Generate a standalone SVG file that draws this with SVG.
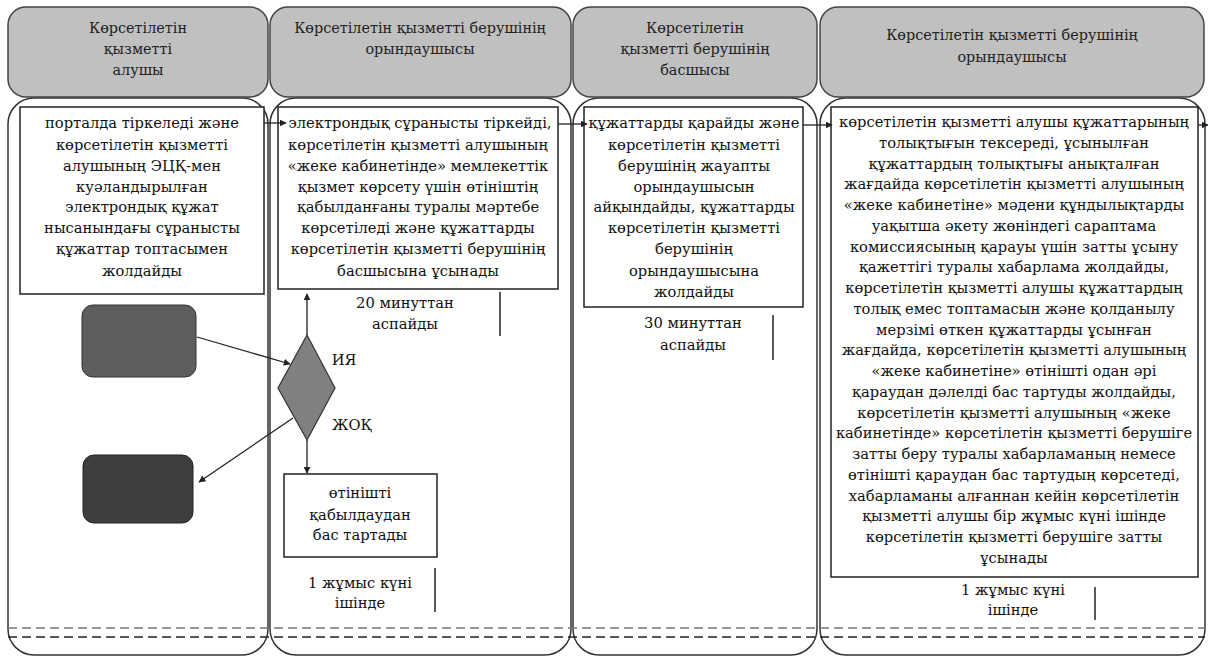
<svg xmlns="http://www.w3.org/2000/svg" width="1208" height="658" viewBox="0 0 1208 658">
<style>
.hdr{fill:#c0c0c0;stroke:#444;stroke-width:1.5}
.lane{fill:#fff;stroke:#333;stroke-width:1.5}
.box{fill:#fff;stroke:#222;stroke-width:1.5}
.t{font-family:"DejaVu Serif","Liberation Serif",serif;font-size:14.7px;fill:#111;text-anchor:middle}
.h{font-family:"DejaVu Serif","Liberation Serif",serif;font-size:14.4px;fill:#222;text-anchor:middle}
.arr{stroke:#222;stroke-width:1.3;fill:none;marker-end:url(#ah)}
.tick{stroke:#222;stroke-width:1.5}
</style>
<defs>
<marker id="ah" viewBox="0 0 10 10" refX="9" refY="5" markerWidth="7" markerHeight="7" orient="auto" markerUnits="userSpaceOnUse"><path d="M0,0 L10,5 L0,10 z" fill="#222"/></marker>
</defs>
<rect width="1208" height="658" fill="#fff"/>
<g id="lanes">
<rect class="lane" x="8" y="98" width="260" height="557" rx="26"/>
<rect class="lane" x="270" y="98" width="301" height="557" rx="26"/>
<rect class="lane" x="573" y="98" width="244" height="557" rx="26"/>
<rect class="lane" x="820" y="98" width="385" height="557" rx="26"/>
</g>
<g id="headers">
<g id="h1"><rect class="hdr" x="8" y="7" width="260" height="90" rx="18"/>
<text class="h" x="138" y="33">Көрсетілетін</text><text class="h" x="138" y="54">қызметті</text><text class="h" x="138" y="75">алушы</text></g>
<g id="h2"><rect class="hdr" x="270" y="7" width="301" height="90" rx="18"/>
<text class="h" x="420" y="33">Көрсетілетін қызметті берушінің</text><text class="h" x="420" y="54">орындаушысы</text></g>
<g id="h3"><rect class="hdr" x="573" y="7" width="244" height="90" rx="18"/>
<text class="h" x="695" y="33">Көрсетілетін</text><text class="h" x="695" y="54">қызметті берушінің</text><text class="h" x="695" y="75">басшысы</text></g>
<g id="h4"><rect class="hdr" x="820" y="7" width="384" height="90" rx="18"/>
<text class="h" x="1012" y="40">Көрсетілетін қызметті берушінің</text><text class="h" x="1012" y="62">орындаушысы</text></g>
</g>
<g id="dashes">
<line x1="8" y1="628" x2="1205" y2="628" stroke="#777" stroke-width="1.5" stroke-dasharray="9,5"/>
<line x1="8" y1="637" x2="1205" y2="637" stroke="#222" stroke-width="1.5" stroke-dasharray="9,5"/>
</g>
<g id="box1"><rect class="box" x="20" y="107" width="244" height="187"/>
<text class="t" x="142" y="128">порталда тіркеледі және</text>
<text class="t" x="142" y="150">көрсетілетін қызметті</text>
<text class="t" x="142" y="171">алушының ЭЦҚ-мен</text>
<text class="t" x="142" y="192">куәландырылған</text>
<text class="t" x="142" y="212">электрондық құжат</text>
<text class="t" x="142" y="233">нысанындағы сұранысты</text>
<text class="t" x="142" y="254">құжаттар топтасымен</text>
<text class="t" x="142" y="276">жолдайды</text>
</g>
<g id="box2"><rect class="box" x="278" y="107" width="280" height="182"/>
<text class="t" x="420" y="128">электрондық сұранысты тіркейді,</text>
<text class="t" x="418" y="150">көрсетілетін қызметті алушының</text>
<text class="t" x="418" y="171">«жеке кабинетінде» мемлекеттік</text>
<text class="t" x="418" y="192">қызмет көрсету үшін өтініштің</text>
<text class="t" x="418" y="212">қабылданғаны туралы мәртебе</text>
<text class="t" x="418" y="233">көрсетіледі және құжаттарды</text>
<text class="t" x="418" y="254">көрсетілетін қызметті берушінің</text>
<text class="t" x="418" y="276">басшысына ұсынады</text>
</g>
<g id="box3"><rect class="box" x="584" y="107" width="219" height="200"/>
<text class="t" x="694" y="128">құжаттарды қарайды және</text>
<text class="t" x="694" y="150">көрсетілетін қызметті</text>
<text class="t" x="694" y="171">берушінің жауапты</text>
<text class="t" x="694" y="192">орындаушысын</text>
<text class="t" x="694" y="212">айқындайды, құжаттарды</text>
<text class="t" x="694" y="233">көрсетілетін қызметті</text>
<text class="t" x="694" y="254">берушінің</text>
<text class="t" x="694" y="276">орындаушысына</text>
<text class="t" x="694" y="297">жолдайды</text>
</g>
<g id="box4"><rect class="box" x="831" y="107" width="367" height="470"/>
<text class="t" x="1014" y="127">көрсетілетін қызметті алушы құжаттарының</text>
<text class="t" x="1014" y="148">толықтығын тексереді, ұсынылған</text>
<text class="t" x="1014" y="169">құжаттардың толықтығы анықталған</text>
<text class="t" x="1014" y="189">жағдайда көрсетілетін қызметті алушының</text>
<text class="t" x="1014" y="210">«жеке кабинетіне» мәдени құндылықтарды</text>
<text class="t" x="1014" y="231">уақытша әкету жөніндегі сараптама</text>
<text class="t" x="1014" y="252">комиссиясының қарауы үшін затты ұсыну</text>
<text class="t" x="1014" y="272">қажеттігі туралы хабарлама жолдайды,</text>
<text class="t" x="1014" y="293">көрсетілетін қызметті алушы құжаттардың</text>
<text class="t" x="1014" y="314">толық емес топтамасын және қолданылу</text>
<text class="t" x="1014" y="335">мерзімі өткен құжаттарды ұсынған</text>
<text class="t" x="1014" y="355">жағдайда, көрсетілетін қызметті алушының</text>
<text class="t" x="1014" y="376">«жеке кабинетіне» өтінішті одан әрі</text>
<text class="t" x="1014" y="397">қараудан дәлелді бас тартуды жолдайды,</text>
<text class="t" x="1014" y="418">көрсетілетін қызметті алушының «жеке</text>
<text class="t" x="1014" y="438">кабинетінде» көрсетілетін қызметті берушіге</text>
<text class="t" x="1014" y="459">затты беру туралы хабарламаның немесе</text>
<text class="t" x="1014" y="480">өтінішті қараудан бас тартудың көрсетеді,</text>
<text class="t" x="1014" y="501">хабарламаны алғаннан кейін көрсетілетін</text>
<text class="t" x="1014" y="521">қызметті алушы бір жұмыс күні ішінде</text>
<text class="t" x="1014" y="542">көрсетілетін қызметті берушіге затты</text>
<text class="t" x="1014" y="563">ұсынады</text>
</g>
<g id="rr1"><rect x="82" y="305" width="114" height="72" rx="11" fill="#5e5e5e" stroke="#333" stroke-width="1"/></g>
<g id="rr2"><rect x="83" y="455" width="110" height="68" rx="11" fill="#3e3e3e" stroke="#222" stroke-width="1"/></g>
<g id="decision"><path d="M307,335 L335,388 L307,440 L278,388 Z" fill="#808080" stroke="#333" stroke-width="1.2"/></g>
<g id="reject"><rect class="box" x="284" y="474" width="153" height="83"/>
<text class="t" x="360" y="498">өтінішті</text>
<text class="t" x="360" y="520">қабылдаудан</text>
<text class="t" x="360" y="540">бас тартады</text>
</g>
<g id="labels">
<text class="t" x="344" y="365">ИЯ</text>
<text class="t" x="352" y="430">ЖОҚ</text>
<text class="t" x="405" y="308">20 минуттан</text>
<text class="t" x="405" y="329">аспайды</text>
<text class="t" x="693" y="328">30 минуттан</text>
<text class="t" x="693" y="350">аспайды</text>
<text class="t" x="360" y="588">1 жұмыс күні</text>
<text class="t" x="360" y="608">ішінде</text>
<text class="t" x="1013" y="595">1 жұмыс күні</text>
<text class="t" x="1013" y="615">ішінде</text>
</g>
<g id="connectors">
<line class="arr" x1="264" y1="123" x2="286" y2="123"/>
<line class="arr" x1="558" y1="124" x2="587" y2="124"/>
<line class="arr" x1="803" y1="125" x2="832" y2="125"/>
<line class="arr" x1="1198" y1="125" x2="1208" y2="125"/>
<line class="arr" x1="197" y1="337" x2="290" y2="364"/>
<line class="arr" x1="293" y1="418" x2="199" y2="482"/>
<line class="arr" x1="307" y1="335" x2="307" y2="294"/>
<line class="arr" x1="307" y1="440" x2="307" y2="473"/>
<line class="tick" x1="500" y1="292" x2="500" y2="336"/>
<line class="tick" x1="773" y1="315" x2="773" y2="360"/>
<line class="tick" x1="435" y1="568" x2="435" y2="612"/>
<line class="tick" x1="1095" y1="587" x2="1095" y2="620"/>
</g>
</svg>
